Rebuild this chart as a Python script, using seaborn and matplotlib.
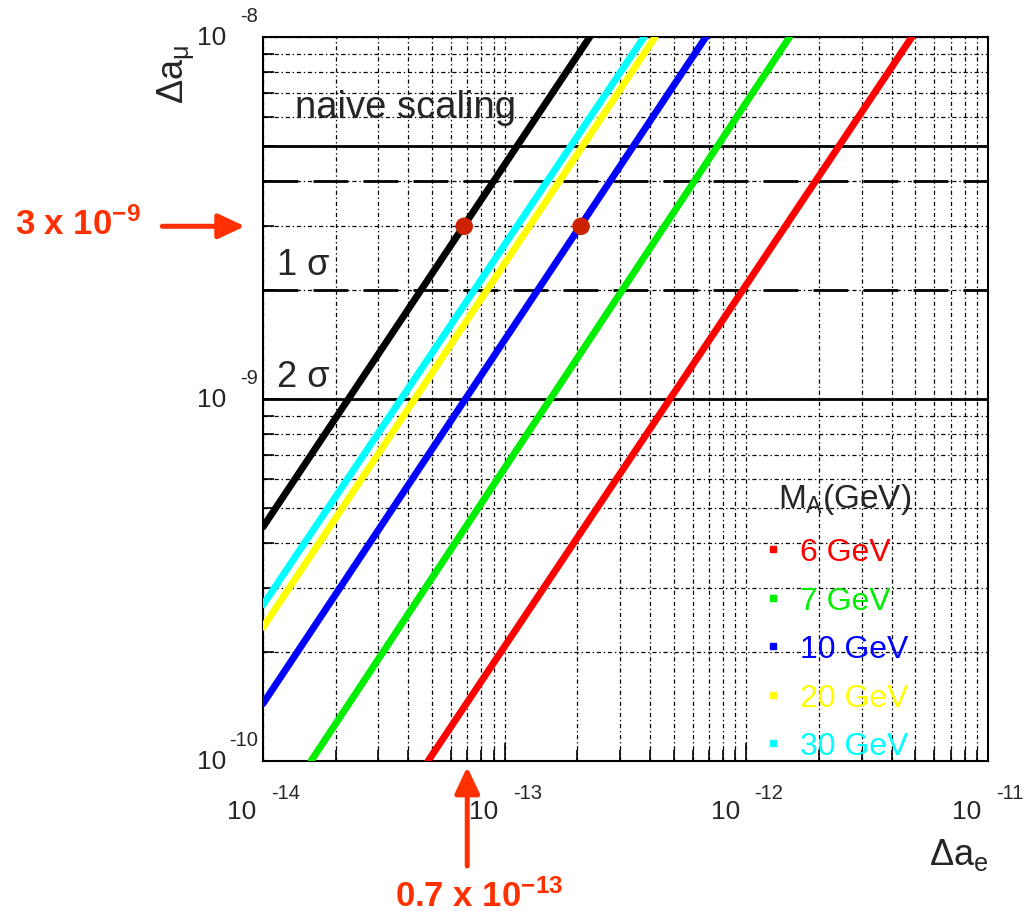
import numpy as np
import pandas as pd
import matplotlib
matplotlib.use("Agg")
import matplotlib.pyplot as plt
import seaborn as sns
from matplotlib.lines import Line2D
from matplotlib.ticker import LogLocator, NullFormatter
from matplotlib.transforms import blended_transform_factory, offset_copy

# ---------------------------
# data
# ---------------------------
masses = ['6 GeV', '7 GeV', '10 GeV', '20 GeV', '30 GeV']
colors = ['#ff0000', '#00ee00', '#0000ff', '#ffff00', '#00ffff']

# each curve is a straight line in log-log: entry / exit points of the frame
x_start = [4.82e-14, 1.58e-14, 1.0e-14, 1.0e-14, 1.0e-14]
y_start = [1.0e-10, 1.0e-10, 1.44e-10, 2.34e-10, 2.70e-10]
x_end = [4.84e-12, 1.51e-12, 6.8e-13, 4.19e-13, 3.77e-13]
y_end = [1.0e-8, 1.0e-8, 1.0e-8, 1.0e-8, 1.0e-8]

naive_x = [1.0e-14, 2.25e-13]
naive_y = [4.43e-10, 1.0e-8]

solid_levels = [5.0e-9, 1.0e-9]
dashed_levels = [4.0e-9, 2.0e-9]

point_x = [6.8e-14, 2.07e-13]
point_y = [3.0e-9, 3.0e-9]

x_decades = [-14, -13, -12, -11]
y_decades = [-10, -9, -8]

# ---------------------------
# style
# ---------------------------
sns.set_style("white")
plt.rcParams['font.family'] = ['Liberation Sans', 'DejaVu Sans']
plt.rcParams['mathtext.fontset'] = 'custom'
plt.rcParams['mathtext.rm'] = 'Liberation Sans'
plt.rcParams['mathtext.it'] = 'Liberation Sans'
plt.rcParams['mathtext.bf'] = 'Liberation Sans:bold'
plt.rcParams['lines.scale_dashes'] = False

orange = '#ff3000'

fig = plt.figure(figsize=(10.23, 9.12), dpi=100)
ax = fig.add_axes([263 / 1023, 1 - 762 / 912, 725 / 1023, 724 / 912])

rows = []
for m, xs, ys, xe, ye in zip(masses, x_start, y_start, x_end, y_end):
    rows.append({'mass': m, 'x': xs, 'y': ys})
    rows.append({'mass': m, 'x': xe, 'y': ye})
df = pd.DataFrame(rows)

ax.set_xscale('log')
ax.set_yscale('log')

sns.lineplot(data=df, x='x', y='y', hue='mass', palette=dict(zip(masses, colors)),
             estimator=None, sort=False, linewidth=5, legend=False, ax=ax, zorder=3)
sns.lineplot(x=naive_x, y=naive_y, color='black', linewidth=5, estimator=None,
             sort=False, ax=ax, zorder=3)

for lv in solid_levels:
    ax.axhline(lv, color='black', lw=2, zorder=2)
for lv in dashed_levels:
    ax.axhline(lv, color='black', lw=2, ls=(0, (25, 11)), zorder=2)

sns.scatterplot(x=point_x, y=point_y, color='#cc2200', s=160, edgecolor='none', ax=ax, zorder=5)

ax.set_xlim(1e-14, 1e-11)
ax.set_ylim(1e-10, 1e-8)

# grid on every decade and sub-decade
for axis in (ax.xaxis, ax.yaxis):
    axis.set_major_locator(LogLocator(base=10, numticks=20))
    axis.set_minor_locator(LogLocator(base=10, subs=np.arange(2, 10), numticks=20))
    axis.set_minor_formatter(NullFormatter())
ax.grid(which='both', color='black', lw=0.9, ls=(0, (3, 2, 1, 2)), zorder=1)
ax.tick_params(which='both', direction='in', bottom=True, left=True, top=False, right=False,
               labelbottom=False, labelleft=False, color='black', width=1.2)
ax.tick_params(which='major', length=13)
ax.tick_params(which='minor', length=8)
for sp in ax.spines.values():
    sp.set_color('black')
    sp.set_linewidth(1.5)
ax.set_xlabel('')
ax.set_ylabel('')

# ROOT-like tick labels: "10" with detached exponent
bx = blended_transform_factory(ax.transData, ax.transAxes)
for e in x_decades:
    ax.text(10.0 ** e, 0, '10', transform=offset_copy(bx, fig=fig, x=-21, y=-38, units='dots'),
            ha='center', va='top', fontsize=19)
    ax.text(10.0 ** e, 0, str(e), transform=offset_copy(bx, fig=fig, x=8, y=-22, units='dots'),
            ha='left', va='top', fontsize=14.5)
by = blended_transform_factory(ax.transAxes, ax.transData)
for e in y_decades:
    ax.text(0, 10.0 ** e, '10', transform=offset_copy(by, fig=fig, x=-37, y=0, units='dots'),
            ha='right', va='center', fontsize=19)
    ax.text(0, 10.0 ** e, str(e), transform=offset_copy(by, fig=fig, x=-5, y=21, units='dots'),
            ha='right', va='center', fontsize=14.5)

# axis titles
ax.text(1.0, 0, r'$\Delta a_{e}$', transform=offset_copy(ax.transAxes, fig=fig, x=0, y=-103, units='dots'),
        ha='right', va='baseline', fontsize=26)
fig.text(184 / 1023, 1 - 104 / 912, r'$\Delta a_{\mu}$', rotation=90, rotation_mode='anchor',
         ha='left', va='baseline', fontsize=26)

# labels inside
ax.text(0.044, 0.8895, 'naive scaling', transform=ax.transAxes, fontsize=27.5, va='baseline')
ax.text(0.019, 0.6727, '1 σ', transform=ax.transAxes, fontsize=26, va='baseline')
ax.text(0.019, 0.518, '2 σ', transform=ax.transAxes, fontsize=26, va='baseline')

# legend (title as separate text, like the original)
ax.text((778 - 263) / 725, (762 - 508) / 724, '$M_A$(GeV)', transform=ax.transAxes,
        fontsize=24, ha='left', va='baseline')
handles = [Line2D([], [], marker='s', ls='', color=c, markersize=4.5) for c in colors]
leg = ax.legend(handles, masses, loc='upper left', bbox_to_anchor=(0.69, 0.309),
                frameon=False, fontsize=23, labelcolor=colors,
                handlelength=0.6, handletextpad=0.55, labelspacing=0.58,
                borderpad=0, borderaxespad=0)

# red annotations
ax.annotate('', xy=(-0.025, 3e-9), xycoords=('axes fraction', 'data'),
            xytext=(-0.139, 3e-9), textcoords=('axes fraction', 'data'),
            arrowprops=dict(arrowstyle='-|>,head_length=1.6,head_width=0.75', lw=3.6,
                            color=orange, mutation_scale=10, shrinkA=0, shrinkB=0),
            annotation_clip=False)
ax.annotate('', xy=(7e-14, -0.008), xycoords=('data', 'axes fraction'),
            xytext=(7e-14, -0.145), textcoords=('data', 'axes fraction'),
            arrowprops=dict(arrowstyle='-|>,head_length=1.6,head_width=0.75', lw=3.6,
                            color=orange, mutation_scale=10, shrinkA=0, shrinkB=0),
            annotation_clip=False)
fig.text(15 / 1023, 1 - 235 / 912, r'3 x 10$^{\mathbf{-9}}$', color=orange, fontsize=25,
         fontweight='bold', ha='left', va='baseline')
fig.text(395 / 1023, 1 - 907 / 912, r'0.7 x 10$^{\mathbf{-13}}$', color=orange, fontsize=25,
         fontweight='bold', ha='left', va='baseline')

fig.savefig('out.png', dpi=100, facecolor='white')
